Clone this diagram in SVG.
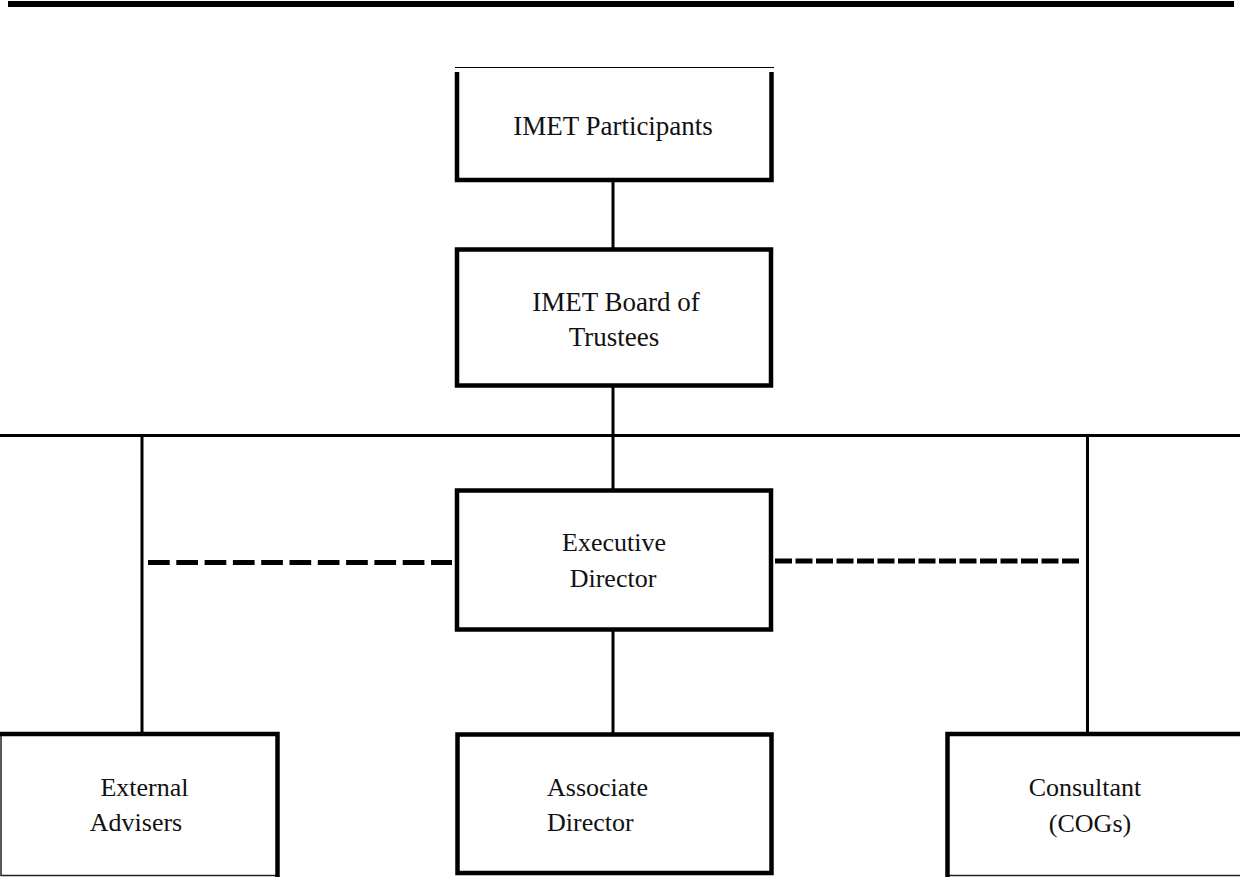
<svg xmlns="http://www.w3.org/2000/svg" width="1240" height="877" viewBox="0 0 1240 877">
<style>
.box{fill:#fff;stroke:#000;stroke-width:4.5}
.thin{fill:none;stroke:#222;stroke-width:1.5}
.ln{stroke:#000;stroke-width:3;fill:none}
.dash{stroke:#000;stroke-width:5;fill:none}
text{font-family:"Liberation Serif","Times New Roman",serif;font-size:26px;fill:#111}
.big{font-size:27px}
.c{text-anchor:middle}
</style>
<rect x="0" y="0" width="1240" height="877" fill="#fff"/>
<rect x="8" y="1" width="1226" height="6" fill="#000"/>
<g id="connectors">
<line class="ln" x1="613" y1="180" x2="613" y2="250"/>
<line class="ln" x1="613" y1="386" x2="613" y2="491"/>
<line class="ln" x1="613" y1="630" x2="613" y2="734"/>
<line class="ln" x1="0" y1="435.5" x2="1240" y2="435.5"/>
<line class="ln" x1="142" y1="435.5" x2="142" y2="734"/>
<line class="ln" x1="1087.5" y1="435.5" x2="1087.5" y2="734"/>
<line class="dash" x1="148" y1="562.5" x2="452" y2="562.5" stroke-dasharray="21.7 6.6"/>
<line class="dash" x1="775" y1="561" x2="1082" y2="561" stroke-dasharray="17 3.5" stroke-width="4.5"/>
</g>
<g id="participants">
<line x1="455" y1="67.5" x2="774" y2="67.5" stroke="#000" stroke-width="1.2"/>
<path d="M457 72 V180 H771.5 V72" fill="#fff" stroke="#000" stroke-width="4.5"/>
<text class="c big" x="613" y="135">IMET Participants</text>
</g>
<g id="board">
<rect class="box" x="457" y="249.5" width="314" height="136"/>
<text class="c big" x="616" y="311">IMET Board of</text>
<text class="c big" x="614" y="346">Trustees</text>
</g>
<g id="executive">
<rect class="box" x="457" y="490.5" width="314" height="139"/>
<text class="c" x="614" y="551">Executive</text>
<text class="c" x="613" y="587">Director</text>
</g>
<g id="external">
<rect x="0" y="734" width="278" height="143" fill="#fff"/>
<path class="thin" d="M1 734 V875.5 H278"/>
<path d="M0 734 H277.5 V877" fill="none" stroke="#000" stroke-width="4.5"/>
<text class="c" x="144.5" y="796">External</text>
<text class="c" x="136" y="831">Advisers</text>
</g>
<g id="associate">
<rect class="box" x="457.5" y="734.5" width="314" height="138.5"/>
<text x="547" y="796">Associate</text>
<text x="547" y="831">Director</text>
</g>
<g id="consultant">
<rect x="947" y="734" width="293" height="143" fill="#fff"/>
<path class="thin" d="M947 875.5 H1240"/>
<path d="M1240 734 H947.5 V877" fill="none" stroke="#000" stroke-width="4.5"/>
<text class="c" x="1085" y="796">Consultant</text>
<text class="c" x="1090" y="832">(COGs)</text>
</g>
</svg>
